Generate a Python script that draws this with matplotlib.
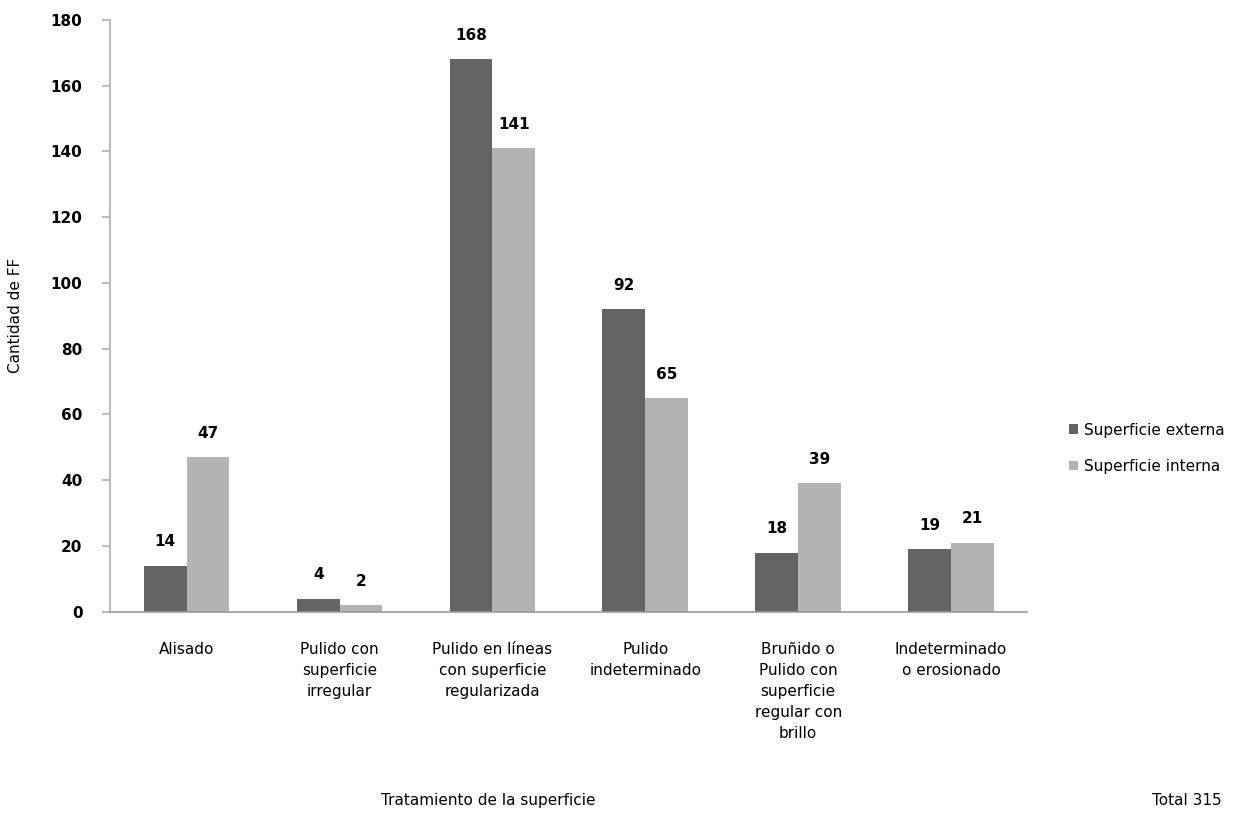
import matplotlib
matplotlib.use('Agg')
import matplotlib.pyplot as plt
import numpy as np

categories = ['Alisado', 'Pulido con\nsuperficie\nirregular', 'Pulido en líneas\ncon superficie\nregularizada',
              'Pulido\nindeterminado', 'Bruñido o\nPulido con\nsuperficie\nregular con\nbrillo',
              'Indeterminado\no erosionado']
externa = [14, 4, 168, 92, 18, 19]
interna = [47, 2, 141, 65, 39, 21]
series_names = ['Superficie externa', 'Superficie interna']

dark = '#646464'
light = '#b3b3b3'

fig = plt.figure(figsize=(12.53, 8.3), dpi=100)
ax = fig.add_axes([0.088, 0.263, 0.732, 0.713])

x = np.arange(len(categories))
w = 0.28
b1 = ax.bar(x - w / 2, externa, w, color=dark, label=series_names[0])
b2 = ax.bar(x + w / 2, interna, w, color=light, label=series_names[1])

for bars, vals in ((b1, externa), (b2, interna)):
    for r, v in zip(bars, vals):
        ax.text(r.get_x() + r.get_width() / 2, v + 5, str(v), ha='center', va='bottom',
                fontsize=11, color='black', fontweight='bold')

ax.set_xlim(-0.5, len(categories) - 0.5)
ax.set_ylim(0, 180)
ax.set_yticks(np.arange(0, 181, 20))
ax.tick_params(axis='y', labelsize=11, color='#bbbbbb', length=6, width=1.5, pad=14)
for t in ax.get_yticklabels():
    t.set_fontweight('bold')
ax.set_xticks(x)
ax.set_xticklabels(categories, fontsize=11, va='top', linespacing=1.5)
ax.tick_params(axis='x', length=0, pad=22)

for s in ('top', 'right'):
    ax.spines[s].set_visible(False)
ax.spines['left'].set_color('#bbbbbb')
ax.spines['left'].set_linewidth(1.5)
ax.spines['bottom'].set_color('#999999')
ax.spines['bottom'].set_linewidth(1.2)

ax.set_ylabel('Cantidad de FF', fontsize=11, labelpad=20)
fig.text(0.39, 0.035, 'Tratamiento de la superficie', fontsize=11, ha='center', va='center')
fig.text(0.947, 0.035, 'Total 315', fontsize=11, ha='center', va='center')

fig.legend(handles=[b1, b2], labels=series_names, loc='center left',
           bbox_to_anchor=(0.842, 0.46), frameon=False, fontsize=11,
           handlelength=0.6, handleheight=0.6, handletextpad=0.4, labelspacing=1.4)

fig.savefig('out.png', dpi=100)
